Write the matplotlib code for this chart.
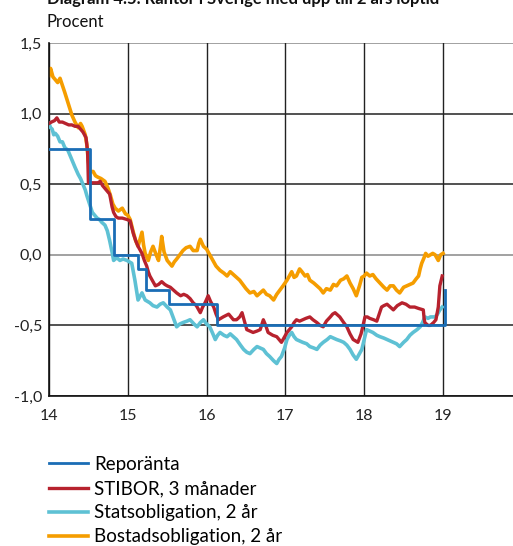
import matplotlib.pyplot as plt


# Colours
BLUE = "#1a6db5"
RED = "#b7222e"
CYAN = "#5ec1d4"
ORANGE = "#f59d00"

plt.rcParams["font.family"] = ["Lato", "DejaVu Sans"]

# Reporänta (step changes, year as 14 = 2014)
repo_dates = [14.00, 14.52, 14.83, 15.13, 15.23, 15.52, 16.13, 19.02, 19.025]
repo_values = [0.75, 0.25, 0.00, -0.10, -0.25, -0.35, -0.50, -0.25, -0.25]

# STIBOR, 3 månader
stibor_dates = [
    14.00, 14.03, 14.07, 14.10, 14.13, 14.17, 14.21, 14.25, 14.29, 14.33,
    14.37, 14.40, 14.43, 14.47, 14.49, 14.50, 14.54, 14.58, 14.62, 14.65,
    14.68, 14.71, 14.74, 14.77, 14.80, 14.82, 14.85, 14.88, 14.93, 14.99,
    15.03, 15.07, 15.10, 15.13, 15.16, 15.18, 15.21, 15.24, 15.26, 15.28,
    15.32, 15.35, 15.39, 15.43, 15.47, 15.50, 15.54, 15.58, 15.62, 15.67,
    15.71, 15.75, 15.79, 15.83, 15.87, 15.92, 15.95, 15.98, 16.02, 16.05,
    16.09, 16.12, 16.15, 16.21, 16.28, 16.34, 16.38, 16.42, 16.45, 16.48,
    16.51, 16.55, 16.59, 16.64, 16.68, 16.72, 16.75, 16.78, 16.84, 16.89,
    16.95, 16.98, 17.02, 17.05, 17.08, 17.11, 17.14, 17.18, 17.22, 17.26,
    17.31, 17.35, 17.40, 17.44, 17.48, 17.52, 17.57, 17.60, 17.63, 17.69,
    17.74, 17.78, 17.82, 17.86, 17.92, 17.96, 17.99, 18.01, 18.04, 18.07,
    18.12, 18.16, 18.19, 18.22, 18.25, 18.29, 18.33, 18.37, 18.42, 18.48,
    18.53, 18.58, 18.64, 18.69, 18.75, 18.76, 18.77, 18.81, 18.84, 18.88,
    18.91, 18.94, 18.96, 18.99,
]
stibor_values = [
    0.93, 0.94, 0.95, 0.97, 0.94, 0.94, 0.93, 0.92, 0.92, 0.91,
    0.91, 0.89, 0.87, 0.83, 0.73, 0.51, 0.51, 0.51, 0.51, 0.52,
    0.49, 0.47, 0.45, 0.43, 0.34, 0.30, 0.27, 0.26, 0.26, 0.25,
    0.24, 0.15, 0.10, 0.06, 0.03, 0.01, -0.04, -0.08, -0.12, -0.15,
    -0.19, -0.22, -0.21, -0.19, -0.21, -0.22, -0.23, -0.25, -0.27, -0.29,
    -0.28, -0.29, -0.31, -0.34, -0.36, -0.41, -0.37, -0.34, -0.29, -0.33,
    -0.37, -0.42, -0.46, -0.44, -0.42, -0.46, -0.46, -0.44, -0.41, -0.47,
    -0.53, -0.54, -0.55, -0.54, -0.53, -0.46, -0.50, -0.55, -0.57, -0.58,
    -0.62, -0.59, -0.55, -0.53, -0.51, -0.48, -0.46, -0.47, -0.46, -0.45,
    -0.44, -0.46, -0.48, -0.50, -0.51, -0.47, -0.44, -0.42, -0.41, -0.44,
    -0.48, -0.51, -0.56, -0.60, -0.62, -0.56, -0.49, -0.44, -0.44, -0.45,
    -0.46, -0.47, -0.42, -0.37, -0.36, -0.35, -0.37, -0.39, -0.36, -0.34,
    -0.35, -0.37, -0.37, -0.38, -0.39, -0.45, -0.48, -0.50, -0.50, -0.48,
    -0.46, -0.37, -0.22, -0.15,
]

# Statsobligation, 2 år
stats_dates = [
    14.00, 14.02, 14.04, 14.06, 14.08, 14.11, 14.14, 14.17, 14.20, 14.24,
    14.27, 14.30, 14.33, 14.37, 14.40, 14.43, 14.46, 14.48, 14.52, 14.55,
    14.58, 14.61, 14.64, 14.67, 14.71, 14.74, 14.77, 14.80, 14.82, 14.86,
    14.90, 14.94, 14.99, 15.02, 15.05, 15.07, 15.09, 15.11, 15.13, 15.16,
    15.18, 15.22, 15.25, 15.28, 15.32, 15.37, 15.41, 15.45, 15.50, 15.54,
    15.58, 15.62, 15.66, 15.70, 15.75, 15.79, 15.84, 15.88, 15.92, 15.96,
    16.00, 16.04, 16.08, 16.11, 16.14, 16.17, 16.22, 16.26, 16.30, 16.34,
    16.38, 16.43, 16.47, 16.51, 16.55, 16.60, 16.64, 16.68, 16.72, 16.76,
    16.80, 16.85, 16.89, 16.92, 16.95, 16.99, 17.02, 17.05, 17.08, 17.11,
    17.14, 17.18, 17.22, 17.27, 17.31, 17.36, 17.40, 17.44, 17.48, 17.53,
    17.57, 17.61, 17.65, 17.70, 17.74, 17.78, 17.82, 17.86, 17.90, 17.94,
    17.97, 18.00, 18.03, 18.07, 18.11, 18.16, 18.20, 18.25, 18.29, 18.33,
    18.37, 18.41, 18.45, 18.50, 18.54, 18.58, 18.62, 18.67, 18.71, 18.74,
    18.77, 18.81, 18.84, 18.87, 18.90, 18.93, 18.96, 18.99,
]
stats_values = [
    0.93, 0.90, 0.89, 0.85, 0.86, 0.84, 0.80, 0.80, 0.76, 0.74,
    0.70, 0.66, 0.62, 0.57, 0.54, 0.50, 0.46, 0.42, 0.35, 0.30,
    0.28, 0.26, 0.25, 0.23, 0.21, 0.17, 0.10, 0.02, -0.04, -0.02,
    -0.04, -0.03, -0.04, -0.05, -0.06, -0.12, -0.18, -0.25, -0.32, -0.29,
    -0.27, -0.32, -0.33, -0.34, -0.36, -0.37, -0.35, -0.34, -0.37, -0.39,
    -0.45, -0.51, -0.49, -0.48, -0.47, -0.46, -0.49, -0.51, -0.48, -0.46,
    -0.49, -0.51, -0.56, -0.60, -0.57, -0.55, -0.57, -0.58, -0.56, -0.58,
    -0.60, -0.64, -0.67, -0.69, -0.70, -0.67, -0.65, -0.66, -0.67, -0.70,
    -0.72, -0.75, -0.77, -0.74, -0.72, -0.66, -0.60, -0.57, -0.55, -0.58,
    -0.60, -0.61, -0.62, -0.63, -0.65, -0.66, -0.67, -0.64, -0.62, -0.60,
    -0.58, -0.59, -0.60, -0.61, -0.62, -0.64, -0.67, -0.71, -0.74, -0.70,
    -0.67, -0.60, -0.53, -0.54, -0.55, -0.57, -0.58, -0.59, -0.60, -0.61,
    -0.62, -0.63, -0.65, -0.62, -0.60, -0.57, -0.55, -0.53, -0.51, -0.48,
    -0.44, -0.45, -0.44, -0.44, -0.44, -0.42, -0.39, -0.37,
]

# Bostadsobligation, 2 år
bostad_dates = [
    14.00, 14.02, 14.05, 14.08, 14.11, 14.14, 14.17, 14.20, 14.24, 14.27,
    14.29, 14.33, 14.37, 14.40, 14.42, 14.46, 14.48, 14.50, 14.52, 14.56,
    14.59, 14.62, 14.66, 14.71, 14.75, 14.78, 14.81, 14.84, 14.88, 14.93,
    14.97, 15.00, 15.03, 15.07, 15.10, 15.13, 15.16, 15.18, 15.20, 15.22,
    15.26, 15.29, 15.32, 15.36, 15.39, 15.42, 15.43, 15.46, 15.50, 15.53,
    15.56, 15.59, 15.62, 15.66, 15.70, 15.74, 15.79, 15.83, 15.88, 15.90,
    15.92, 15.96, 16.00, 16.04, 16.08, 16.12, 16.17, 16.22, 16.26, 16.30,
    16.34, 16.38, 16.42, 16.46, 16.50, 16.55, 16.60, 16.64, 16.68, 16.72,
    16.76, 16.80, 16.85, 16.89, 16.93, 16.97, 17.02, 17.05, 17.08, 17.11,
    17.14, 17.18, 17.21, 17.25, 17.28, 17.31, 17.36, 17.40, 17.44, 17.48,
    17.52, 17.57, 17.61, 17.65, 17.70, 17.74, 17.78, 17.82, 17.86, 17.90,
    17.94, 17.97, 18.00, 18.03, 18.07, 18.11, 18.15, 18.20, 18.25, 18.29,
    18.33, 18.37, 18.41, 18.45, 18.50, 18.54, 18.58, 18.62, 18.66, 18.69,
    18.71, 18.73, 18.76, 18.78, 18.81, 18.84, 18.87, 18.90, 18.94, 18.97,
    19.00,
]
bostad_values = [
    1.27, 1.32, 1.26, 1.24, 1.22, 1.25, 1.20, 1.15, 1.08, 1.03,
    0.99, 0.94, 0.90, 0.93, 0.91, 0.85, 0.78, 0.66, 0.59, 0.59,
    0.56, 0.55, 0.54, 0.52, 0.47, 0.42, 0.36, 0.33, 0.31, 0.33,
    0.29, 0.28, 0.25, 0.16, 0.10, 0.06, 0.12, 0.16, 0.07, 0.01,
    -0.04, 0.02, 0.06, 0.00, -0.04, 0.08, 0.13, 0.02, -0.04, -0.06,
    -0.08, -0.05, -0.03, 0.00, 0.03, 0.05, 0.06, 0.03, 0.03, 0.08,
    0.11, 0.06, 0.04, 0.00, -0.04, -0.08, -0.11, -0.13, -0.15, -0.12,
    -0.14, -0.16, -0.18, -0.21, -0.24, -0.27, -0.26, -0.29, -0.27, -0.25,
    -0.28, -0.29, -0.32, -0.28, -0.25, -0.22, -0.18, -0.15, -0.12, -0.16,
    -0.15, -0.10, -0.12, -0.15, -0.14, -0.18, -0.20, -0.22, -0.24, -0.27,
    -0.24, -0.25, -0.21, -0.22, -0.18, -0.17, -0.15, -0.20, -0.24, -0.29,
    -0.22, -0.16, -0.15, -0.13, -0.15, -0.14, -0.17, -0.20, -0.23, -0.25,
    -0.22, -0.22, -0.25, -0.27, -0.23, -0.22, -0.21, -0.20, -0.17, -0.15,
    -0.10, -0.06, -0.02, 0.01, -0.01, 0.00, 0.01, 0.00, -0.04, 0.00,
    0.01,
]

year_ticks = [14, 15, 16, 17, 18, 19]
year_labels = ["14", "15", "16", "17", "18", "19"]
value_ticks = [-1.0, -0.5, 0.0, 0.5, 1.0, 1.5]
value_labels = ["-1,0", "-0,5", "0,0", "0,5", "1,0", "1,5"]


def make_chart():
    fig = plt.figure(figsize=(5.13, 5.46), dpi=100)
    ax = fig.add_axes([49 / 513, 1 - 396 / 546, 1 - 49 / 513, (396 - 43) / 546])

    # Grid lines drawn by hand to get the mix of black and grey
    for y in value_ticks:
        colour = "#888888" if y in (0.0, 1.5) else "#222222"
        ax.axhline(y, color=colour, lw=1.1, zorder=1)
    for x in year_ticks:
        ax.axvline(x, color="#222222", lw=1.0, zorder=1)

    ax.plot(bostad_dates, bostad_values, color=ORANGE, lw=2.6, zorder=2,
            label="Bostadsobligation, 2 år")
    ax.plot(stats_dates, stats_values, color=CYAN, lw=2.6, zorder=3,
            label="Statsobligation, 2 år")
    ax.plot(stibor_dates, stibor_values, color=RED, lw=2.4, zorder=4,
            label="STIBOR, 3 månader")
    ax.plot(repo_dates, repo_values, color=BLUE, lw=2.0, zorder=5,
            drawstyle="steps-post", label="Reporänta")

    ax.set_xlim(14, 14 + (513 - 49) / 78.8)
    ax.set_ylim(-1.0, 1.5)
    ax.set_xticks(year_ticks)
    ax.set_xticklabels(year_labels)
    ax.set_yticks(value_ticks)
    ax.set_yticklabels(value_labels)
    ax.tick_params(length=0, labelsize=11.5, colors="#222222")
    ax.tick_params(axis="x", pad=9)
    ax.tick_params(axis="y", pad=5)

    for side in ["top", "right"]:
        ax.spines[side].set_visible(False)
    ax.spines["left"].set_color("#111111")
    ax.spines["bottom"].set_color("#111111")
    ax.spines["left"].set_linewidth(1.2)
    ax.spines["bottom"].set_linewidth(1.2)

    fig.text(47 / 513, 1 - 4 / 546, "Diagram 4.5. Räntor i Sverige med upp till 2 års löptid",
             fontsize=12, fontweight="bold", va="baseline", color="#111111")
    fig.text(47 / 513, 1 - 22 / 546, "Procent", fontsize=12, va="center", color="#111111")

    handles, labels = ax.get_legend_handles_labels()
    order = [3, 2, 1, 0]
    fig.legend([handles[i] for i in order], [labels[i] for i in order],
               loc="upper left", bbox_to_anchor=(49 / 513, 1 - 456 / 546),
               frameon=False, fontsize=13.5, handlelength=2.1, handletextpad=0.3,
               labelspacing=0.38, borderpad=0, borderaxespad=0)

    fig.savefig("out.png", dpi=100)


if __name__ == "__main__":
    make_chart()
